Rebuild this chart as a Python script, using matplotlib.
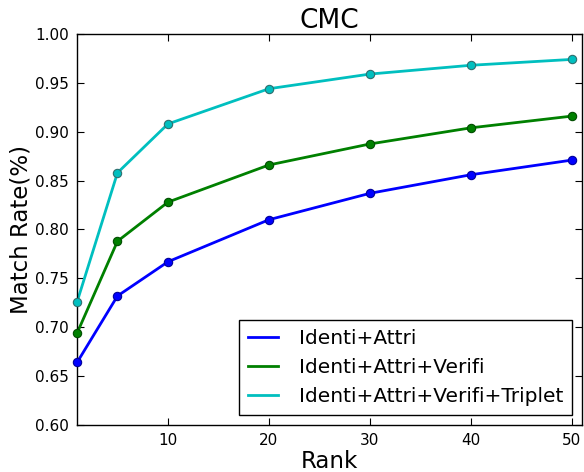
import matplotlib
matplotlib.use("Agg")
import matplotlib.pyplot as plt

# ── Data ────────────────────────────────────────────────────────────────
ranks = [1, 5, 10, 20, 30, 40, 50]
identi_attri = [0.664, 0.732, 0.767, 0.810, 0.837, 0.856, 0.871]
identi_attri_verifi = [0.694, 0.788, 0.828, 0.866, 0.8875, 0.904, 0.916]
identi_attri_verifi_triplet = [0.726, 0.858, 0.908, 0.944, 0.959, 0.968, 0.974]

series = [
    ("Identi+Attri", identi_attri, "#0000ff", "#00009a"),
    ("Identi+Attri+Verifi", identi_attri_verifi, "#008000", "#004d00"),
    ("Identi+Attri+Verifi+Triplet", identi_attri_verifi_triplet, "#00bfbf", "#2f6f6f"),
]

fig = plt.figure(figsize=(5.84, 4.72), dpi=100)
ax = fig.add_axes([0.132, 0.0996, 0.8646, 0.8284])

for label, vals, color, edge in series:
    ax.plot(ranks, vals, color=color, linewidth=2, label=label)
    ax.plot(ranks, vals, "o", color=color, markeredgecolor=edge,
            markeredgewidth=0.8, markersize=6, label="_nolegend_",
            clip_on=False, zorder=3)

ax.set_xlim(1, 51)
ax.set_ylim(0.60, 1.00)
ax.set_xticks([10, 20, 30, 40, 50])
ax.set_yticks([0.60, 0.65, 0.70, 0.75, 0.80, 0.85, 0.90, 0.95, 1.00])
ax.set_yticklabels([f"{v:.2f}" for v in ax.get_yticks()])
ax.tick_params(direction="in", top=True, right=True, labelsize=11,
               length=5, width=0.8, pad=6)
for s in ax.spines.values():
    s.set_linewidth(1.0)

ax.set_title("CMC", fontsize=19, pad=4)
ax.set_xlabel("Rank", fontsize=16.5, labelpad=1)
ax.set_ylabel("Match Rate(%)", fontsize=16.5, labelpad=2)

leg = ax.legend(loc="lower right", fontsize=14.5, fancybox=False,
                framealpha=1, edgecolor="black", borderaxespad=0.5,
                handlelength=1.5, handletextpad=1.0, borderpad=0.45)
leg.get_frame().set_linewidth(1.0)

fig.savefig("out.png", dpi=100)
